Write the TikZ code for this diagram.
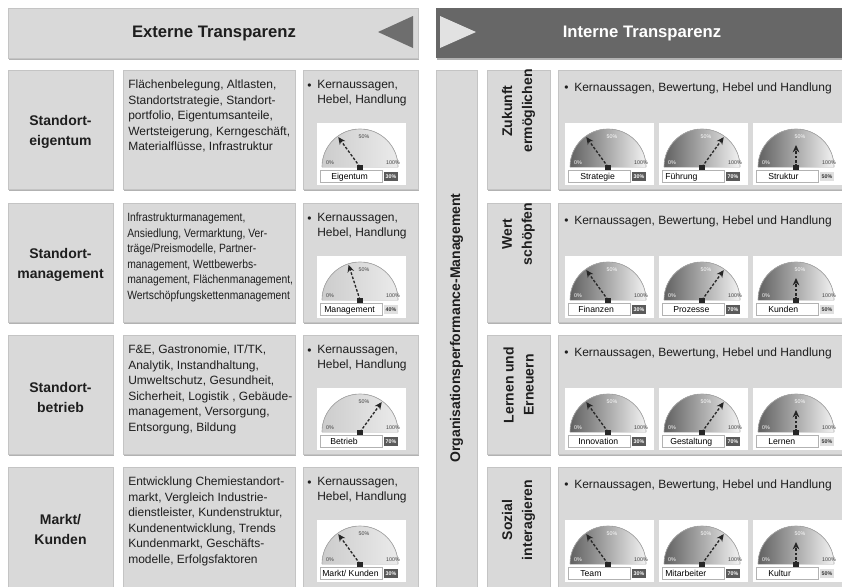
\documentclass[tikz,border=0pt]{standalone}
\usepackage{fontspec}
\setmainfont{Liberation Sans}
\newfontfamily\narrowfont[FakeStretch=0.86]{Liberation Sans}
\usetikzlibrary{shadows,arrows.meta}

\definecolor{panelgray}{HTML}{D9D9D9}
\definecolor{panelline}{HTML}{C4C4C4}
\definecolor{headdark}{HTML}{676767}
\definecolor{arrowdark}{HTML}{6E6E6E}
\definecolor{arrowlight}{HTML}{E2E2E2}
\definecolor{valdark}{HTML}{5A5A5A}
\definecolor{dialline}{HTML}{A8A8A8}
\definecolor{textgray}{HTML}{1E1E1E}

\tikzset{
  panel/.style={fill=panelgray,draw=panelline,line width=0.5pt,
    drop shadow={shadow xshift=0.8pt,shadow yshift=-1.6pt,opacity=0.3,fill=black}},
  headtext/.style={font=\fontsize{12.5}{14}\selectfont\bfseries,inner sep=0pt},
  title/.style={font=\fontsize{10.5}{15}\selectfont\bfseries,align=center,text=textgray,inner sep=0pt},
  bodytext/.style={font=\fontsize{9}{11.6}\selectfont,align=left,anchor=base west,inner sep=0pt,text=textgray},
  bodyblock/.style={bodytext,anchor=north west},
  dial dark/.style={left color=black!62,right color=black!5},
  dial light/.style={left color=black!20,right color=black!8},
  lowtick dark/.style={text=white},
  lowtick light/.style={text=black!75},
  tick/.style={font=\fontsize{4}{4}\selectfont,inner sep=0pt,text=black!75},
  barline/.style={draw=black!30,line width=0.4pt},
  barlabel/.style={font=\fontsize{6.5}{7}\selectfont,anchor=base west,inner sep=0pt,text=black},
  valbox dark/.style={fill=valdark,text=white,font=\fontsize{4}{4}\selectfont\bfseries,
    minimum width=10.5pt,minimum height=6.8pt,inner sep=0pt},
  valbox light/.style={valbox dark,fill=black!12,text=black!80},
  valbox 30/.style={valbox dark},
  valbox 70/.style={valbox dark},
  valbox 40/.style={valbox light},
  valbox 50/.style={valbox light},
  needle/.style={draw=black!85,line width=1pt,dash pattern=on 2pt off 1.3pt,
    -{Stealth[length=5.5pt,width=5pt]}}
}

% name, top left, label, percent, dark/light, text start
\newcommand{\tacho}[6]{%
  \begin{scope}[shift={(#2)}]
    \fill[white] (0,0) rectangle (89,62);
    \fill[dial #5] (5,44) arc[start angle=180,end angle=360,radius=38] -- cycle;
    \draw[dialline,line width=0.5pt] (5,44) arc[start angle=180,end angle=360,radius=38];
    \node[tick,lowtick #5] (#1-0) at (13,40) {0\%};
    \node[tick,lowtick #5] (#1-50) at (47,14) {50\%};
    \node[tick] (#1-100) at (76,40) {100\%};
    \draw[barline,fill=white] (3,47) rectangle (65,59);
    \node[barlabel] (#1) at (#6,56.5) {#3};
    \node[valbox #4] (#1-val) at (74,53.5) {#4\%};
    \draw[needle] (43,44) -- ++({(37-15*(#4==50))*cos(180-1.8*#4)},{-(37-15*(#4==50))*sin(180-1.8*#4)});
    \fill[black!85] (40,41.5) rectangle (46,46.5);
  \end{scope}}

\begin{document}
\begin{tikzpicture}[x=0.75pt,y=-0.75pt]
\useasboundingbox (0,0) rectangle (842,586);

% headers
\draw[panel] (8,8) rectangle (418,58);
\fill[arrowdark] (378,32) -- (413,16) -- (413,48) -- cycle;
\node[headtext,text=textgray] (extern) at (214,33) {Externe Transparenz};
\fill[headdark,drop shadow={shadow xshift=0.8pt,shadow yshift=-1.6pt,opacity=0.3,fill=black}] (436,8) rectangle (850,58);
\fill[arrowlight] (440,16) -- (476,32) -- (440,48) -- cycle;
\node[headtext,text=white] (intern) at (642,33) {Interne Transparenz};

% left rows
\draw[panel] (8,70) rectangle (113,189);
\draw[panel] (123,70) rectangle (295,189);
\draw[panel] (303,70) rectangle (418,189);
\draw[panel] (8,203) rectangle (113,322);
\draw[panel] (123,203) rectangle (295,322);
\draw[panel] (303,203) rectangle (418,322);
\draw[panel] (8,335) rectangle (113,454);
\draw[panel] (123,335) rectangle (295,454);
\draw[panel] (303,335) rectangle (418,454);
\draw[panel] (8,467) rectangle (113,590);
\draw[panel] (123,467) rectangle (295,590);
\draw[panel] (303,467) rectangle (418,590);

\node[title] (eigentum) at (60.5,132) {Standort-\\eigentum};
\node[title] (management) at (60.5,265) {Standort-\\management};
\node[title] (betrieb) at (60.5,397) {Standort-\\betrieb};
\node[title] (markt) at (60.5,529) {Markt/\\Kunden};

\node[bodyblock] (themen1) at (128,80) {Flächenbelegung, Altlasten,\\Standortstrategie, Standort-\\portfolio, Eigentumsanteile,\\Wertsteigerung, Kerngeschäft,\\Materialflüsse, Infrastruktur};
\node[bodyblock,font=\fontsize{9}{11.6}\narrowfont] (themen2) at (127,213) {Infrastrukturmanagement,\\Ansiedlung, Vermarktung, Ver-\\träge/Preismodelle, Partner-\\management, Wettbewerbs-\\management, Flächenmanagement,\\Wertschöpfungskettenmanagement};
\node[bodyblock] (themen3) at (128,345) {F\&E, Gastronomie, IT/TK,\\Analytik, Instandhaltung,\\Umweltschutz, Gesundheit,\\Sicherheit, Logistik , Gebäude-\\management, Versorgung,\\Entsorgung, Bildung};
\node[bodyblock] (themen4) at (128,477) {Entwicklung Chemiestandort-\\markt, Vergleich Industrie-\\dienstleister, Kundenstruktur,\\Kundenentwicklung, Trends\\Kundenmarkt, Geschäfts-\\modelle, Erfolgsfaktoren};

\node[bodytext] (punkt1) at (307,89) {\textbullet};
\node[bodyblock] (kern1) at (317,80) {Kernaussagen,\\Hebel, Handlung};
\node[bodytext] (punkt2) at (307,222) {\textbullet};
\node[bodyblock] (kern2) at (317,213) {Kernaussagen,\\Hebel, Handlung};
\node[bodytext] (punkt3) at (307,354) {\textbullet};
\node[bodyblock] (kern3) at (317,345) {Kernaussagen,\\Hebel, Handlung};
\node[bodytext] (punkt4) at (307,486) {\textbullet};
\node[bodyblock] (kern4) at (317,477) {Kernaussagen,\\Hebel, Handlung};

\tacho{eig}{317,123}{Eigentum}{30}{light}{14}
\tacho{man}{317,256}{Management}{40}{light}{7}
\tacho{bet}{317,388}{Betrieb}{70}{light}{13}
\tacho{mk}{317,520}{Markt/ Kunden}{30}{light}{5}

% right side
\draw[panel] (436,70) rectangle (477,590);
\node[title,rotate=90] (opm) at (456.5,328) {Organisationsperformance-Management};

\draw[panel] (487,70) rectangle (550,189);
\draw[panel] (558,70) rectangle (850,189);
\draw[panel] (487,203) rectangle (550,322);
\draw[panel] (558,203) rectangle (850,322);
\draw[panel] (487,335) rectangle (550,454);
\draw[panel] (558,335) rectangle (850,454);
\draw[panel] (487,467) rectangle (550,590);
\draw[panel] (558,467) rectangle (850,590);

\node[title,rotate=90] (zukunft) at (518.5,111) {Zukunft\\ermöglichen};
\node[title,rotate=90] (wert) at (518.5,234) {Wert\\schöpfen};
\node[title,rotate=90] (lernen) at (518.5,385) {Lernen und\\Erneuern};
\node[title,rotate=90] (sozial) at (518.5,520) {Sozial\\interagieren};

\node[bodytext] (rpunkt1) at (564,91) {\textbullet};
\node[bodytext] (rkern1) at (574,91) {Kernaussagen, Bewertung, Hebel und Handlung};
\node[bodytext] (rpunkt2) at (564,224) {\textbullet};
\node[bodytext] (rkern2) at (574,224) {Kernaussagen, Bewertung, Hebel und Handlung};
\node[bodytext] (rpunkt3) at (564,356) {\textbullet};
\node[bodytext] (rkern3) at (574,356) {Kernaussagen, Bewertung, Hebel und Handlung};
\node[bodytext] (rpunkt4) at (564,488) {\textbullet};
\node[bodytext] (rkern4) at (574,488) {Kernaussagen, Bewertung, Hebel und Handlung};

\tacho{str}{565,123}{Strategie}{30}{dark}{15}
\tacho{fue}{659,123}{Führung}{70}{dark}{6}
\tacho{stk}{753,123}{Struktur}{50}{dark}{15}
\tacho{fin}{565,256}{Finanzen}{30}{dark}{13}
\tacho{pro}{659,256}{Prozesse}{70}{dark}{14}
\tacho{kun}{753,256}{Kunden}{50}{dark}{15}
\tacho{inn}{565,388}{Innovation}{30}{dark}{13}
\tacho{ges}{659,388}{Gestaltung}{70}{dark}{11}
\tacho{ler}{753,388}{Lernen}{50}{dark}{15}
\tacho{tea}{565,520}{Team}{30}{dark}{15}
\tacho{mit}{659,520}{Mitarbeiter}{70}{dark}{6}
\tacho{kul}{753,520}{Kultur}{50}{dark}{15}
\end{tikzpicture}
\end{document}
